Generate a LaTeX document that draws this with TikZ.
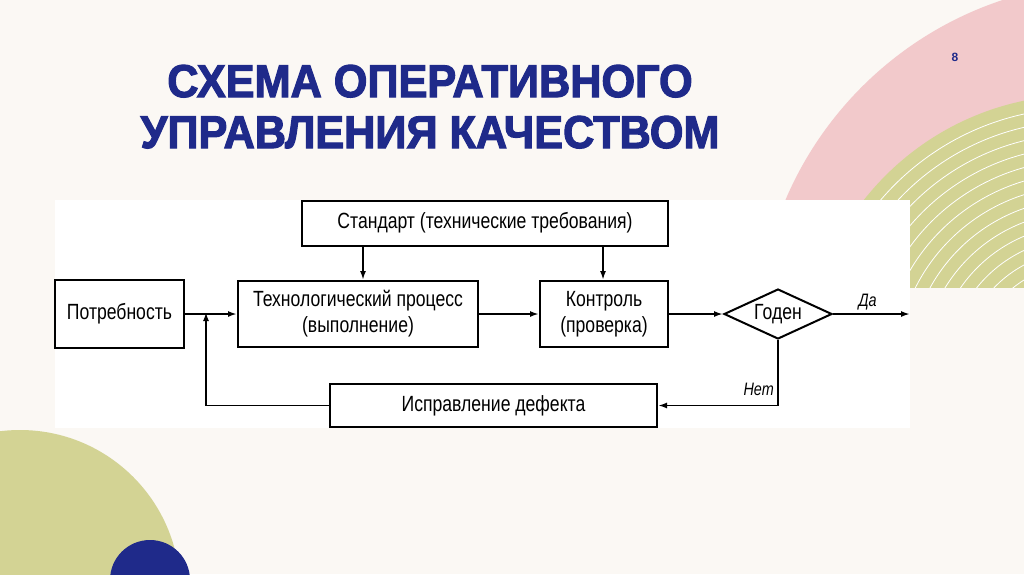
\documentclass[tikz,border=0pt]{standalone}
\usepackage{fontspec}
\setmainfont{Liberation Sans}
\newfontfamily\narrow[FakeStretch=0.8]{Liberation Sans}
\newfontfamily\heavy[FakeBold=2.5,FakeStretch=0.94]{Liberation Sans Bold}
\usetikzlibrary{shapes.geometric,arrows.meta}
\definecolor{bg}{HTML}{FBF8F4}
\definecolor{pinkc}{HTML}{F2C9CB}
\definecolor{greenc}{HTML}{D3D394}
\definecolor{navy}{HTML}{1F2A8A}
\begin{document}
\begin{tikzpicture}[x=1pt,y=-1pt,
  box/.style={draw,line width=2pt,font=\narrow\fontsize{22}{26}\selectfont,align=center,inner sep=0pt},
  arr/.style={line width=1.8pt,-{Latex[length=9pt,width=6pt]}},
  lbl/.style={font=\narrow\itshape\fontsize{18}{20}\selectfont}]
\useasboundingbox (0,0) rectangle (1024,574);
\fill[bg] (0,0) rectangle (1024,574);
\begin{scope}
\clip (0,0) rectangle (1024,287);
\fill[pinkc] (1115,340) circle (358);
\fill[greenc] (1080,370) circle (275);
\foreach \r in {262,249,...,20} \draw[white,line width=0.8pt] (1080,370) circle (\r);
\end{scope}
\begin{scope}
\clip (0,0) rectangle (1024,574);
\fill[greenc] (20,590) circle (160);
\fill[navy] (150,580) circle (40);
\end{scope}
\node[text=navy,font=\bfseries\fontsize{12}{14}\selectfont] (pg) at (955,57) {8};
\node[text=navy,font=\heavy\fontsize{46}{51}\selectfont,align=center,anchor=base] (t) at (430,148) {СХЕМА ОПЕРАТИВНОГО\\УПРАВЛЕНИЯ КАЧЕСТВОМ};
\fill[white] (55,200) rectangle (910,428);
\node[box,minimum width=366pt,minimum height=45pt] (std) at (485,223) {Стандарт (технические требования)};
\node[box,minimum width=129pt,minimum height=68pt] (need) at (119.5,314) {Потребность};
\node[box,minimum width=240pt,minimum height=66pt] (tp) at (358,314) {Технологический процесс\\(выполнение)};
\node[box,minimum width=128pt,minimum height=66pt] (ctl) at (604,314) {Контроль\\(проверка)};
\node[box,diamond,aspect=2.16,minimum width=108pt,minimum height=50pt] (ok) at (778,314) {Годен};
\node[box,minimum width=327pt,minimum height=43pt] (fix) at (493.5,405.5) {Исправление дефекта};
\coordinate (out) at (910,314);
\coordinate (fb) at (206,314);
\draw[arr] (need) -- (tp);
\draw[arr] (tp) -- (ctl);
\draw[arr] (ctl) -- (ok);
\draw[arr] (ok) -- node[lbl,above,pos=0.45] {Да} (out);
\draw[arr] (std.south -| 363,0) -- (tp.north -| 363,0);
\draw[arr] (std.south -| 603,0) -- (ctl.north -| 603,0);
\draw[arr] (ok.south) -- node[lbl,left,pos=0.75] {Нет} (ok.south |- fix.east) -- (fix.east);
\draw[arr] (fix.west) -| ([yshift=2pt]fb);
\end{tikzpicture}
\end{document}
